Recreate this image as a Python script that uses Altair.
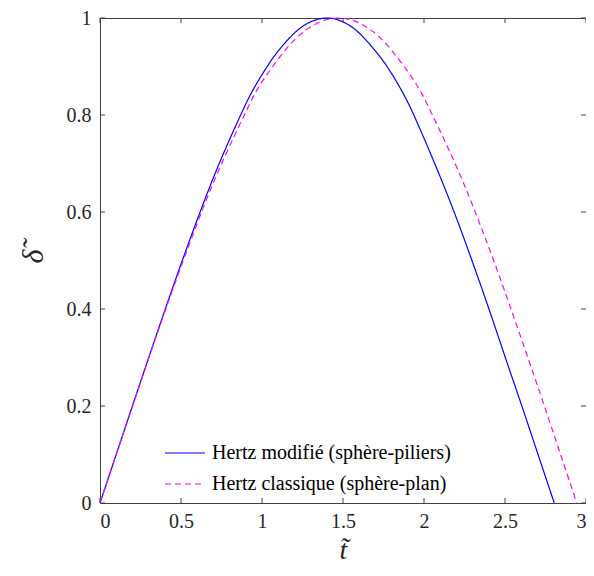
import altair as alt
import pandas as pd

# Hertz modifié (sphère-piliers)
t_mod = [0.0, 0.100, 0.200, 0.301, 0.403, 0.508, 0.618, 0.736, 0.868, 0.950, 1.032, 1.100, 1.200, 1.300, 1.402,
         1.500, 1.600, 1.700, 1.772, 1.854, 1.937, 2.066, 2.186, 2.296, 2.401, 2.502, 2.604, 2.704, 2.804]
d_mod = [0.0, 0.100, 0.200, 0.300, 0.400, 0.500, 0.600, 0.700, 0.800, 0.855, 0.900, 0.932, 0.969, 0.992, 1.000,
         0.992, 0.969, 0.932, 0.900, 0.855, 0.800, 0.700, 0.600, 0.500, 0.400, 0.300, 0.200, 0.100, 0.0]

# Hertz classique (sphère-plan)
t_cla = [0.0, 0.100, 0.201, 0.302, 0.406, 0.514, 0.627, 0.751, 0.891, 0.975, 1.066, 1.170, 1.270, 1.370, 1.472,
         1.573, 1.673, 1.773, 1.877, 1.968, 2.052, 2.192, 2.316, 2.430, 2.537, 2.641, 2.743, 2.843, 2.943]
d_cla = [0.0, 0.100, 0.200, 0.300, 0.400, 0.500, 0.600, 0.700, 0.800, 0.855, 0.900, 0.944, 0.975, 0.9935, 1.000,
         0.9935, 0.975, 0.944, 0.900, 0.855, 0.800, 0.700, 0.600, 0.500, 0.400, 0.300, 0.200, 0.100, 0.0]

series = ["Hertz modifié (sphère-piliers)", "Hertz classique (sphère-plan)"]
x_ticks = [0, 0.5, 1, 1.5, 2, 2.5, 3]
y_ticks = [0, 0.2, 0.4, 0.6, 0.8, 1]

rows = []
for i, (t, d) in enumerate(zip(t_mod, d_mod)):
    rows.append({"t": t, "d": d, "s": series[0], "o": i})
for i, (t, d) in enumerate(zip(t_cla, d_cla)):
    rows.append({"t": t, "d": d, "s": series[1], "o": i})
df = pd.DataFrame(rows)
xt = pd.DataFrame({"v": x_ticks})
yt = pd.DataFrame({"v": y_ticks})

W, H = 486, 485
FONT = "Liberation Serif"
TK = 5

xs = alt.Scale(domain=[0, 3], nice=False, zero=False)
ys = alt.Scale(domain=[0, 1], nice=False, zero=False)

lines = alt.Chart(df).mark_line(strokeWidth=1.2, interpolate="natural").encode(
    x=alt.X("t:Q", scale=xs, axis=alt.Axis(
        values=x_ticks, format="~g", title="t̃", ticks=False, domain=False, grid=False,
        labelFont=FONT, labelFontSize=20, labelColor="#262626", labelPadding=8,
        titleFont=FONT, titleFontSize=28, titleFontStyle="italic", titleFontWeight="normal",
        titleColor="#262626", titleY=55, titleBaseline="alphabetic")),
    y=alt.Y("d:Q", scale=ys, axis=alt.Axis(
        values=y_ticks, format="~g", title="δ̃", ticks=False, domain=False, grid=False,
        labelFont=FONT, labelFontSize=20, labelColor="#262626", labelPadding=9,
        titleFont=FONT, titleFontSize=30, titleFontStyle="italic", titleFontWeight="normal",
        titleColor="#262626", titleX=-58, titleY=238, titleBaseline="alphabetic")),
    color=alt.Color("s:N", scale=alt.Scale(domain=series, range=["#0000ff", "#ff00ff"]),
                    legend=alt.Legend(title=None, orient="none", legendX=64, legendY=414,
                                      symbolType="stroke", symbolSize=1600, symbolStrokeWidth=1.2,
                                      labelFont=FONT, labelFontSize=20, labelColor="#000000",
                                      labelLimit=400, rowPadding=0, labelOffset=6, symbolOffset=0)),
    strokeDash=alt.StrokeDash("s:N", scale=alt.Scale(domain=series, range=[[1, 0], [6, 4]]), legend=None),
    order="o:Q",
)

tick_color = "#404040"
bx = alt.Chart(xt).mark_rule(color=tick_color, strokeWidth=1).encode(
    x=alt.X("v:Q", scale=xs), y=alt.value(H), y2=alt.value(H - TK))
tx = alt.Chart(xt).mark_rule(color=tick_color, strokeWidth=1).encode(
    x=alt.X("v:Q", scale=xs), y=alt.value(0), y2=alt.value(TK))
ly = alt.Chart(yt).mark_rule(color=tick_color, strokeWidth=1).encode(
    y=alt.Y("v:Q", scale=ys), x=alt.value(0), x2=alt.value(TK))
ry = alt.Chart(yt).mark_rule(color=tick_color, strokeWidth=1).encode(
    y=alt.Y("v:Q", scale=ys), x=alt.value(W), x2=alt.value(W - TK))

chart = alt.layer(lines, bx, tx, ly, ry).properties(
    width=W, height=H,
    autosize=alt.AutoSizeParams(type="none"),
    padding={"left": 92, "top": 10, "right": 0, "bottom": 61},
).configure(
    background="white", font=FONT,
).configure_view(stroke=tick_color, strokeWidth=1)

chart.save("out.html", embed_options={"renderer": "svg", "actions": False})
